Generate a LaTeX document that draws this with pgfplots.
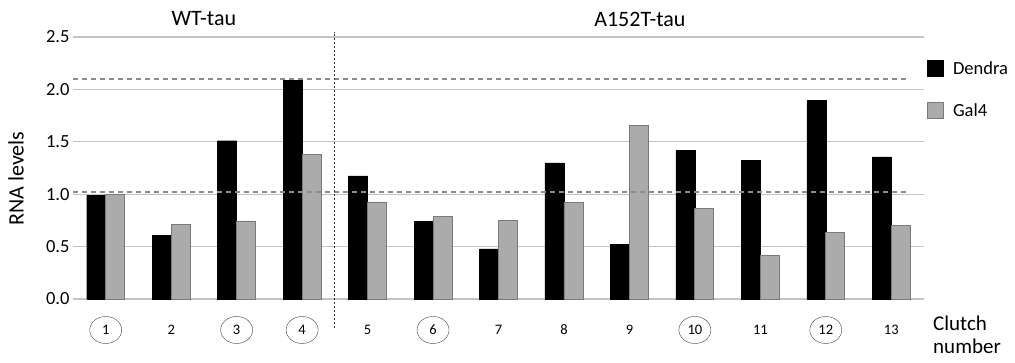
\documentclass[border=0pt]{standalone}
\usepackage{pgfplots}
\pgfplotsset{compat=1.18}
\usepackage{fontspec}
\setmainfont{Carlito}
\usetikzlibrary{shapes.geometric}

\definecolor{gridgray}{HTML}{C4C4C4}
\definecolor{galfill}{HTML}{ABABAB}
\definecolor{galedge}{HTML}{7A7A7A}
\definecolor{refdash}{HTML}{8C8C8C}

\begin{document}
\begin{tikzpicture}
\useasboundingbox (-73pt,-64pt) rectangle (942pt,299pt);
\begin{axis}[
  at={(0pt,0pt)}, anchor=south west,
  scale only axis, width=851pt, height=262pt,
  xmin=0.5, xmax=13.5, ymin=0, ymax=2.5,
  clip=false,
  axis line style={draw=none},
  major tick length=0pt,
  ymajorgrids, grid style={gridgray, line width=1.2pt},
  ytick={0,0.5,1,1.5,2,2.5},
  yticklabel style={/pgf/number format/fixed, /pgf/number format/fixed zerofill,
    /pgf/number format/precision=1, /pgf/number format/assume math mode=true,
    font=\fontsize{18.5}{20}\selectfont},
  % plain clutch numbers
  xtick={2,5,7,8,9,11,13}, xticklabels={2,5,7,8,9,11,13},
  xticklabel style={minimum width=32pt, minimum height=27pt,
    inner sep=0pt, anchor=center, yshift=-31pt, font=\fontsize{14.5}{16}\selectfont},
  % circled clutch numbers
  extra x ticks={1,3,4,6,10,12}, extra x tick labels={1,3,4,6,10,12},
  extra x tick style={tick label style={draw=black!75, ellipse}},
  ylabel={RNA levels},
  ylabel style={at={(axis description cs:-0.067,0.46)}, anchor=center, font=\fontsize{22}{24}\selectfont},
  legend style={at={(axis description cs:1,1)}, anchor=north west, xshift=3pt, yshift=-22pt,
    draw=none, fill=none, font=\fontsize{18.5}{20}\selectfont, row sep=24pt, inner sep=0pt,
    /tikz/every odd column/.append style={column sep=7pt}},
  legend cell align=left,
  legend image code/.code={\draw[#1] (0pt,-8pt) rectangle (16pt,8pt);},
]
% Dendra
\addplot[ybar, bar width=19pt, bar shift=-9.5pt, fill=black, draw=black]
  coordinates {(1,0.99) (2,0.61) (3,1.51) (4,2.085) (5,1.175) (6,0.742) (7,0.478)
               (8,1.30) (9,0.52) (10,1.416) (11,1.325) (12,1.894) (13,1.356)};
\addlegendentry{Dendra}
% Gal4
\addplot[ybar, bar width=19pt, bar shift=9.5pt, fill=galfill, draw=galedge, line width=0.8pt]
  coordinates {(1,1.0) (2,0.71) (3,0.745) (4,1.38) (5,0.926) (6,0.79) (7,0.75)
               (8,0.92) (9,1.66) (10,0.863) (11,0.414) (12,0.633) (13,0.70)};
\addlegendentry{Gal4}
% reference levels
\addplot[refdash, line width=1.3pt, dash pattern=on 5pt off 4pt, forget plot]
  coordinates {(0.5,2.1) (13.27,2.1)};
\addplot[refdash, line width=1.3pt, dash pattern=on 5pt off 4pt, forget plot]
  coordinates {(0.5,1.02) (13.27,1.02)};
% WT / A152T divider
\addplot[black!80, line width=0.8pt, dash pattern=on 2pt off 2pt, forget plot]
  coordinates {(4.5,-0.277) (4.5,2.55)};
\node[font=\fontsize{22}{24}\selectfont, yshift=18pt] at (axis cs:2.5,2.5) {WT-tau};
\node[font=\fontsize{22}{24}\selectfont, yshift=18pt] at (axis cs:9.16,2.5) {A152T-tau};
% x-axis caption, one line per node
\node[font=\fontsize{21}{24}\selectfont, inner sep=0pt, anchor=base west, xshift=9pt, yshift=-32pt]
  at (axis cs:13.5,0) {Clutch};
\node[font=\fontsize{21}{24}\selectfont, inner sep=0pt, anchor=base west, xshift=9pt, yshift=-55pt]
  at (axis cs:13.5,0) {number};
\end{axis}
\end{tikzpicture}
\end{document}
